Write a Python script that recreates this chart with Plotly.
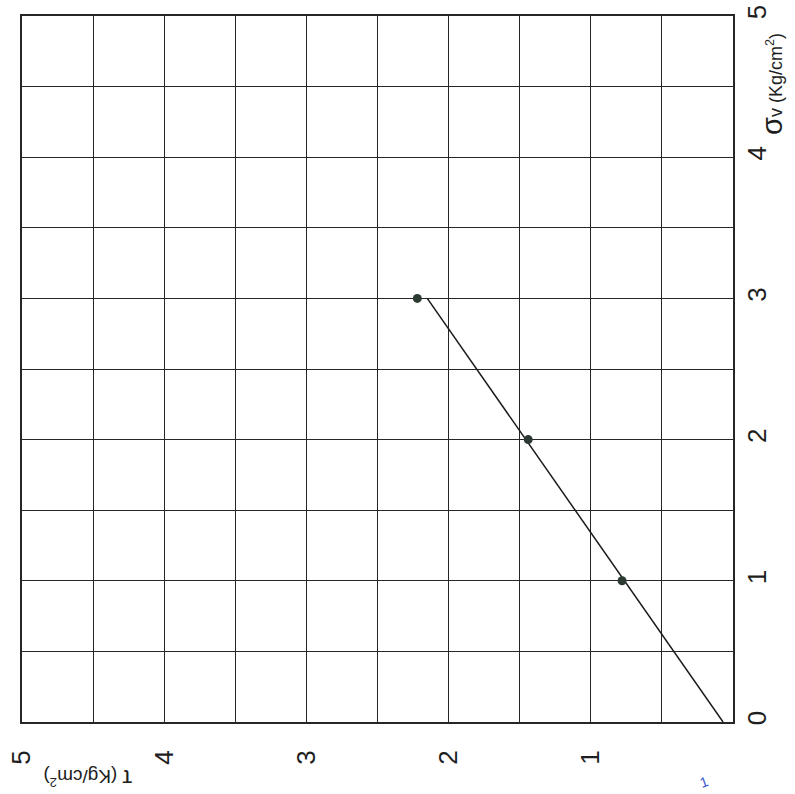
import plotly.graph_objects as go

# Data read from the (rotated) chart: sigma_v (vertical axis), tau (horizontal, reversed)
sigma_pts = [1, 2, 3]
tau_pts = [0.78, 1.44, 2.22]

sigma_line = [0, 3]
tau_line = [0.07, 2.15]

tau_ticks = [1, 2, 3, 4, 5]
sigma_ticks = [0, 1, 2, 3, 4, 5]

W, H = 795, 794
L, R, T, B = 22, 62, 16, 72

fig = go.Figure()
fig.add_trace(go.Scatter(x=tau_line, y=sigma_line, mode="lines",
                         line=dict(color="#1a1a1a", width=1.5), showlegend=False))
fig.add_trace(go.Scatter(x=tau_pts, y=sigma_pts, mode="markers",
                         marker=dict(color="#2c3a32", size=9), showlegend=False))

grid = "#262626"
fig.update_layout(
    width=W, height=H,
    margin=dict(l=L, r=R, t=T, b=B, autoexpand=False),
    plot_bgcolor="white", paper_bgcolor="white",
    font=dict(family="Liberation Sans, Arial", color="#1e1e1e"),
    xaxis=dict(range=[5, 0], tickvals=tau_ticks, ticktext=[str(v) for v in tau_ticks],
               tickangle=-90, tickfont=dict(size=26), automargin=False,
               showgrid=True, gridcolor=grid, gridwidth=1.4,
               minor=dict(dtick=0.5, showgrid=True, gridcolor=grid, gridwidth=1.4),
               showline=True, linecolor=grid, linewidth=1.6, mirror=True,
               zeroline=False, ticks="", ticklabelstandoff=16),
    yaxis=dict(range=[0, 5], side="right", tickvals=sigma_ticks,
               ticktext=[str(v) for v in sigma_ticks],
               tickangle=-90, tickfont=dict(size=26), automargin=False,
               showgrid=True, gridcolor=grid, gridwidth=1.4,
               minor=dict(dtick=0.5, showgrid=True, gridcolor=grid, gridwidth=1.4),
               showline=True, linecolor=grid, linewidth=1.6, mirror=True,
               zeroline=False, ticks="", ticklabelstandoff=0),
)

pw = W - L - R
ph = H - T - B
def px_x(p):
    return (p - L) / pw
def px_y(p):
    return (H - B - p) / ph

fig.add_annotation(xref="paper", yref="paper", x=px_x(772), y=px_y(84),
                   xanchor="center", yanchor="middle",
                   text="<span style='font-size:29px'>σ</span>v (Kg/cm<sup>2</sup>)",
                   textangle=-90, showarrow=False, font=dict(size=18, color="#1e1e1e"))
fig.add_annotation(xref="paper", yref="paper", x=px_x(88), y=px_y(779),
                   xanchor="center", yanchor="middle",
                   text="<span style='font-size:24px'>τ</span> (Kg/cm<sup>2</sup>)",
                   textangle=180, showarrow=False, font=dict(size=19, color="#1e1e1e"))
fig.add_annotation(xref="paper", yref="paper", x=px_x(704), y=px_y(782),
                   xanchor="center", yanchor="middle",
                   text="1", textangle=-20, showarrow=False,
                   font=dict(size=14, color="#3050d0"))

fig.write_html("out.html")
